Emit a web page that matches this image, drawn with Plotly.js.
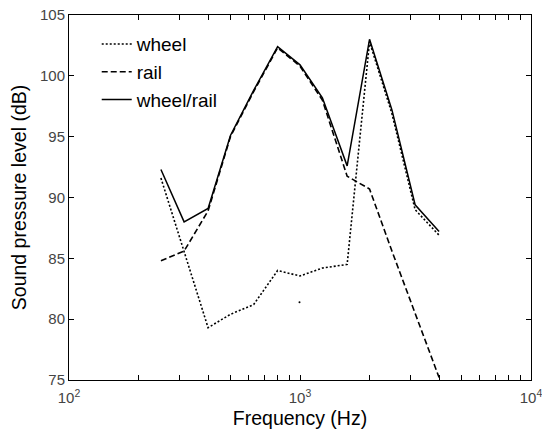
<!DOCTYPE html>
<html><head><meta charset="utf-8">
<script src="https://cdn.plot.ly/plotly-3.0.1.min.js"></script>
<style>html,body{margin:0;padding:0;background:#fff}#c{width:542px;height:437px}</style>
</head><body><div id="c"></div>
<script>
var freq = [250, 315, 400, 500, 630, 800, 1000, 1250, 1600, 2000, 2500, 3150, 4000];
var wheel = [91.6, 85.5, 79.3, 80.4, 81.2, 84.0, 83.55, 84.2, 84.5, 102.8, 96.9, 89.0, 86.9];
var rail = [84.8, 85.6, 88.9, 95.0, 98.7, 102.3, 100.8, 98.0, 91.75, 90.7, 85.6, 80.4, 75.2];
var wheelRail = [92.3, 88.0, 89.1, 95.1, 98.8, 102.4, 100.9, 98.2, 92.6, 103.0, 97.2, 89.4, 87.2];
var strayX = [995];
var strayY = [81.4];
var xTickVals = [100,200,300,400,500,600,700,800,900,1000,2000,3000,4000,5000,6000,7000,8000,9000,10000];
var xTickText = ['10<sup>2</sup>','','','','','','','','','10<sup>3</sup>','','','','','','','','','10<sup>4</sup>'];
var yTickVals = [75, 80, 85, 90, 95, 100, 105];

var traces = [
  {x: freq, y: wheel, name: 'wheel', mode: 'lines', line: {color: '#000', width: 1.6, dash: '2px,2px'}},
  {x: freq, y: rail, name: 'rail', mode: 'lines', line: {color: '#000', width: 1.6, dash: '6px,3px'}},
  {x: freq, y: wheelRail, name: 'wheel/rail', mode: 'lines', line: {color: '#000', width: 1.5}},
  {x: strayX, y: strayY, mode: 'markers', showlegend: false, marker: {color: '#000', size: 2}}
];
var layout = {
  width: 542, height: 437,
  margin: {l: 69, r: 11, t: 15, b: 57},
  paper_bgcolor: '#fff', plot_bgcolor: '#fff',
  font: {family: 'Liberation Sans, Arial, sans-serif', color: '#000'},
  showlegend: true,
  legend: {x: 0.06, y: 0.972, xanchor: 'left', yanchor: 'top', bgcolor: 'rgba(0,0,0,0)', font: {size: 19, color: '#000'}, tracegroupgap: 0},
  xaxis: {
    type: 'log', range: [2, 4], tickmode: 'array', tickvals: xTickVals, ticktext: xTickText,
    ticks: 'inside', ticklen: 5, tickcolor: '#000', showgrid: false, zeroline: false,
    showline: true, linecolor: '#000', linewidth: 1, mirror: 'ticks',
    ticklabeloverflow: 'allow', ticklabelstandoff: 4,
    tickfont: {size: 15, color: '#444'},
    title: {text: 'Frequency (Hz)', font: {size: 19.5, color: '#000'}, standoff: 6}
  },
  yaxis: {
    range: [75, 105], tickmode: 'array', tickvals: yTickVals,
    ticks: 'inside', ticklen: 5, tickcolor: '#000', showgrid: false, zeroline: false,
    showline: true, linecolor: '#000', linewidth: 1, mirror: 'ticks',
    tickfont: {size: 15, color: '#444'},
    title: {text: 'Sound pressure level (dB)', font: {size: 19.5, color: '#000'}, standoff: 8}
  }
};
Plotly.newPlot('c', traces, layout, {displayModeBar: false, staticPlot: true});
</script></body></html>
